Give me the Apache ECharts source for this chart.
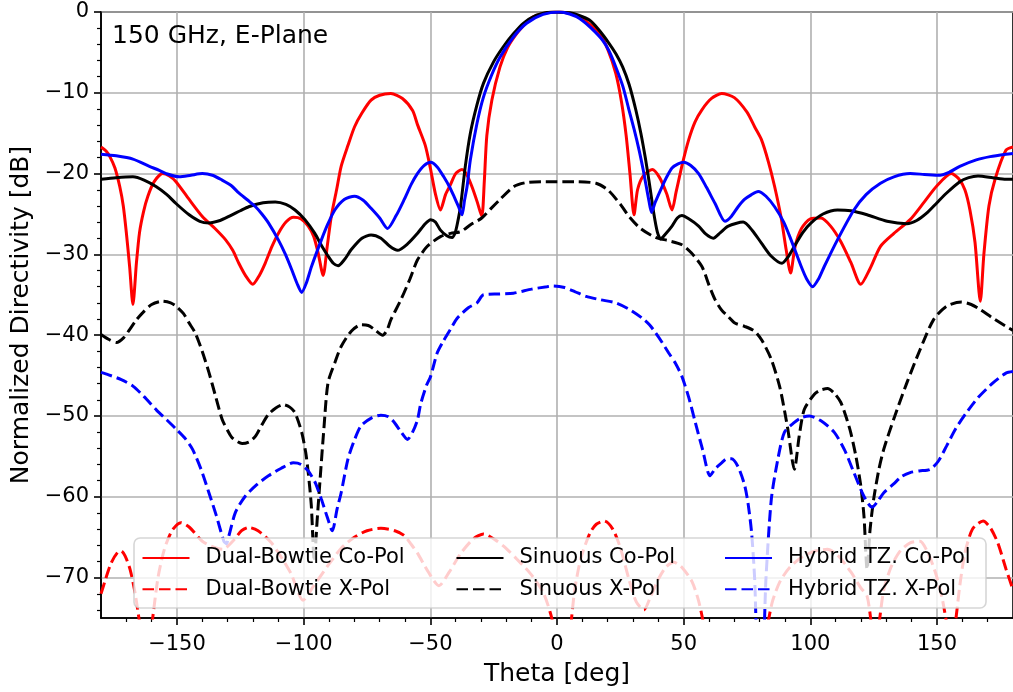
<!DOCTYPE html>
<html>
<head>
<meta charset="utf-8">
<script src="https://cdn.jsdelivr.net/npm/echarts@6/dist/echarts.min.js"></script>
<style>
  html, body { margin: 0; padding: 0; background: #ffffff; }
  #chart { width: 1013px; height: 692px; }
</style>
</head>
<body>
<div id="chart"></div>
<script>
// Normalized directivity cuts at 150 GHz, E-plane: [theta (deg), level (dB)]
const bowtieCo = [[-180,-16.7],[-178,-17.2],[-176.5,-17.9],[-174.5,-19.3],[-172.6,-21.6],[-171.2,-24],[-170,-27.3],[-168.7,-31.5],[-167.4,-36.2],[-166,-31],[-164.8,-27.3],[-163.2,-24.7],[-161.5,-22.8],[-159,-21],[-155.7,-20],[-153,-20.3],[-150.4,-21],[-145.2,-23.2],[-140,-25.3],[-135,-26.8],[-130.8,-28.2],[-128,-29.5],[-125.6,-31.1],[-123,-32.6],[-120.1,-33.7],[-117.5,-32.6],[-115.2,-31.1],[-112.5,-29],[-110,-27.4],[-107,-26],[-104,-25.4],[-101,-25.6],[-98.2,-26.5],[-96,-27.8],[-94.3,-29.8],[-92.3,-32.6],[-90.7,-29],[-89.1,-25.3],[-87,-22],[-85.2,-19.1],[-82.5,-16.5],[-79.9,-14.2],[-77,-12.5],[-73.4,-10.9],[-70,-10.3],[-65.6,-10.1],[-61,-10.7],[-57,-12.2],[-55,-14],[-52,-16.5],[-50,-19.3],[-48,-22.5],[-46,-24.5],[-44,-22.6],[-42.1,-21.4],[-40,-20],[-37.5,-19.5],[-35.5,-20.2],[-33.6,-21.6],[-31.5,-23.5],[-29.7,-25.3],[-28.7,-21],[-27.7,-15.3],[-25.7,-10.9],[-22.5,-6.8],[-19.5,-4.4],[-15.9,-2.67],[-12,-1.3],[-9.4,-0.6],[-5,-0.15],[0,0],[5,-0.15],[9.4,-0.6],[12.5,-1.4],[16.7,-2.6],[20,-4.6],[23.2,-7.6],[25.5,-11.2],[27.3,-15.3],[28.8,-20],[30.4,-25.1],[31.8,-22],[34,-20.3],[37.6,-19.5],[40.5,-20.5],[43.3,-22.5],[45.4,-24.5],[47,-22.3],[49.5,-18.8],[52,-15.8],[54.5,-13.6],[57.2,-12.1],[61,-10.7],[65,-10.1],[70,-10.6],[75,-12.4],[78,-14.2],[80.7,-15.8],[83.5,-18.6],[85.9,-21.6],[88.5,-25.5],[90.5,-29.5],[92.2,-32.3],[94,-29],[96.5,-26.8],[100,-25.6],[104.2,-25.5],[108,-26.5],[112,-28.4],[116,-31],[119.9,-33.7],[123.5,-31.8],[127.7,-29],[133,-27.4],[139.4,-25.7],[145,-23.5],[150,-21.5],[155.7,-20],[158.5,-20.6],[161,-22],[163,-24.5],[165,-28.5],[167.1,-35.8],[168.5,-30],[170.5,-24],[173,-20.6],[177.2,-17.1],[180,-16.7]];

const bowtieX = [[-180,-72],[-178.5,-70.5],[-176,-68.2],[-173.5,-66.9],[-172,-66.7],[-170.5,-67.3],[-168.5,-69],[-166.5,-72],[-164.8,-75.5],[-163,-79],[-161.3,-79],[-159.6,-75],[-157.5,-70],[-155,-66.5],[-152,-64.2],[-148.5,-63.2],[-145,-63.8],[-140,-65.5],[-135,-66.3],[-132,-66.5],[-128,-65.5],[-124.5,-64.2],[-121.7,-63.8],[-118,-64.2],[-113,-65.6],[-110,-66.9],[-105,-69.5],[-100.2,-72.8],[-96,-71],[-90.4,-68.5],[-85,-66.3],[-80,-65],[-75,-64.2],[-69.5,-63.9],[-64,-64.2],[-60.3,-64.8],[-57.5,-65.9],[-55,-67],[-51,-69.2],[-46.6,-71],[-42.5,-69.3],[-38,-67],[-33,-65.2],[-29,-64.6],[-24.5,-65.3],[-20,-66.4],[-15.9,-67.7],[-10.5,-69.5],[-5.5,-71.8],[-2.5,-74.5],[0,-78],[2.5,-81],[5,-77],[7,-71.5],[9.5,-67.5],[13,-64.5],[15.5,-63.4],[18.7,-63],[22,-64],[25,-66.3],[28.4,-70.2],[31.3,-73],[34.3,-74],[37,-72.3],[40,-70.2],[43,-68.7],[46.1,-68.1],[49.5,-68.8],[53.3,-70.5],[56,-73],[58,-76],[60,-80],[70,-85],[80,-80],[83,-76],[85,-73],[88,-70.5],[92,-68.7],[97,-67.4],[102,-66.7],[106.8,-66.5],[111,-67.3],[116,-69.3],[120,-71.3],[122.4,-72.3],[124,-75.5],[125.5,-79],[127,-76],[129,-71.5],[132,-68.6],[135.5,-66.7],[139.4,-65.7],[143.3,-65.5],[146.5,-67],[149.5,-69.5],[152,-72.5],[154,-76],[155.5,-79],[157.3,-75.5],[159,-71],[161,-67],[164,-64],[168.2,-63],[171,-63.8],[174,-65.7],[177.2,-68.9],[180,-71.5]];

const sinuousCo = [[-180,-20.7],[-174,-20.5],[-167.4,-20.4],[-163,-20.8],[-158.3,-21.6],[-154,-22.6],[-150.4,-23.7],[-145.2,-25.1],[-141,-25.9],[-137.4,-26.1],[-133,-25.8],[-129.5,-25.3],[-125,-24.6],[-121.7,-24.1],[-116,-23.6],[-111.2,-23.5],[-107,-23.8],[-103.4,-24.5],[-99.5,-25.7],[-95.6,-27.4],[-92.8,-29],[-90.4,-30.2],[-88.3,-31.1],[-86.4,-31.4],[-83.8,-30.6],[-81.2,-29.4],[-77,-28],[-73.4,-27.6],[-69.5,-28],[-66,-29],[-62.9,-29.5],[-59,-28.7],[-55.1,-27.4],[-52,-26.2],[-49.9,-25.7],[-48,-26],[-46,-27],[-43.5,-27.7],[-41.4,-27.9],[-40.2,-27.3],[-39.4,-26.3],[-38.1,-24.1],[-36.2,-19.1],[-34.2,-15],[-31.6,-11.5],[-29,-8.8],[-25.1,-6.2],[-21.2,-4.3],[-17.2,-2.7],[-13.3,-1.4],[-8.1,-0.4],[-4,-0.05],[-1.3,0],[2,-0.02],[5,-0.1],[8.5,-0.4],[12.8,-1],[16.5,-2.2],[20.6,-3.9],[23.3,-5.2],[25.9,-6.8],[28.5,-9],[31.1,-12.1],[33.1,-15],[35,-18.3],[36.6,-21.5],[38.2,-24.9],[39.6,-27.2],[40.9,-28.1],[42.5,-27.6],[45.4,-26.5],[47.5,-25.5],[49.3,-25.2],[52,-25.6],[55.9,-26.5],[58.8,-27.5],[61.7,-28],[64.5,-27.3],[67.6,-26.5],[73.5,-26],[77,-27],[80.7,-28.6],[84.5,-30.2],[88.8,-31.1],[91,-30.4],[93.7,-29],[97,-27.3],[100.3,-26.1],[105,-25],[110.7,-24.5],[116,-24.6],[122.4,-25.1],[130.3,-25.9],[138.1,-26.2],[142,-25.8],[145.9,-24.9],[150,-23.6],[153.8,-22.4],[159,-21],[162.5,-20.5],[166.2,-20.3],[172,-20.5],[177.2,-20.7],[180,-20.7]];

const sinuousX = [[-180,-39.9],[-177,-40.5],[-173.9,-40.9],[-171,-40.3],[-168.7,-39.3],[-166,-38.1],[-163.5,-37.2],[-160,-36.2],[-155.7,-35.8],[-152.5,-36],[-150.4,-36.4],[-147.5,-37.3],[-145.2,-38.5],[-143,-39.6],[-141.3,-40.9],[-139.4,-42.6],[-137.4,-44.6],[-135,-47.3],[-132.2,-50.4],[-130,-51.8],[-128.2,-52.7],[-124.3,-53.4],[-121.5,-53.2],[-119,-52.5],[-116.5,-51.1],[-113.9,-49.8],[-111,-49],[-108,-48.6],[-105.5,-48.9],[-103.4,-49.6],[-100.8,-52],[-99.2,-54.5],[-98.2,-57],[-97,-61],[-95.8,-68],[-94.7,-63],[-93.6,-58.2],[-92,-51.5],[-90.4,-45.9],[-87.7,-43.4],[-85.2,-41.4],[-81.2,-39.5],[-77.3,-38.7],[-74.5,-38.8],[-72,-39.3],[-68.8,-40],[-67,-39.3],[-65.6,-38.1],[-61.6,-35.6],[-58,-33],[-55.1,-30.7],[-51.2,-29],[-46,-27.8],[-42,-27.4],[-38.1,-27.2],[-34,-26.3],[-29.7,-25.5],[-26,-24.3],[-22.5,-23.2],[-17,-21.6],[-12,-21.1],[-5,-21],[0,-21],[8,-21],[15.4,-21.2],[20,-22],[25,-23.8],[28.4,-25.3],[33,-26.8],[38.9,-27.9],[44,-28.3],[49.3,-28.8],[53,-29.8],[57.2,-31.5],[60,-33.8],[62.4,-35.6],[65,-36.9],[67.6,-37.7],[70.2,-38.5],[74,-38.9],[78,-39.5],[81,-40.7],[84.6,-43],[88,-46.5],[91.1,-51.6],[93.7,-56.6],[95.6,-52.5],[97.6,-49.2],[101.6,-47.3],[104,-46.8],[106.8,-46.6],[109.5,-47.2],[112,-48.3],[114,-50],[115.9,-52],[118,-55],[119.9,-58.6],[121.2,-62.5],[122.4,-69],[123.6,-64],[125,-60.3],[127,-56.7],[129,-54.1],[132.9,-50.4],[138.1,-45.9],[143.3,-41.8],[148.6,-38.1],[153.8,-36.4],[159.7,-35.9],[163.5,-36.2],[166.9,-36.8],[172.1,-37.9],[177.2,-38.9],[180,-39.4]];

const hybridCo = [[-180,-17.6],[-174,-17.8],[-167.4,-18.2],[-160.9,-19.1],[-157,-19.6],[-154.3,-20],[-149.1,-20.4],[-144.5,-20.2],[-140,-20],[-136,-20.2],[-132.2,-20.8],[-128.5,-21.5],[-125.6,-22.4],[-122,-23.3],[-119,-24.1],[-116.5,-25],[-113.9,-26.1],[-110,-28.2],[-107.2,-30],[-104.7,-31.9],[-102.6,-33.6],[-100.8,-34.7],[-98.9,-33.5],[-96.9,-31.5],[-93,-28.2],[-90.4,-26.2],[-87.7,-24.5],[-84,-23.2],[-79.9,-22.8],[-76.5,-23.3],[-73.4,-24.3],[-70,-25.5],[-66.9,-26.8],[-63.5,-25.2],[-60.3,-23.2],[-57.5,-21.3],[-55.1,-20],[-52.5,-19],[-49.9,-18.6],[-47.2,-19.2],[-44.7,-20.4],[-42.5,-21.6],[-40.7,-22.8],[-39,-24],[-37.5,-25.1],[-36.5,-23.3],[-35.5,-21.6],[-34.2,-18.3],[-31.6,-13.8],[-29,-10.5],[-25.8,-7.8],[-22.5,-5.6],[-17.2,-3.1],[-12,-1.4],[-5.5,-0.3],[1,0],[5,-0.25],[8.9,-0.8],[13.5,-2],[18,-3.5],[20.5,-4.8],[23.2,-6.8],[26,-9.2],[28.4,-12.1],[30.5,-14.6],[32.4,-17.1],[34,-19.5],[35,-21.2],[36.3,-23.4],[37.3,-24.8],[38.7,-23.6],[41.5,-21.6],[43.5,-20.3],[45.4,-19.3],[47.8,-18.8],[50,-18.6],[52.8,-19],[55.9,-20],[59,-21.7],[62.4,-23.7],[66.3,-25.9],[68.8,-25.3],[71.5,-24.1],[74,-23.2],[76.8,-22.6],[79.4,-22.2],[82.5,-22.8],[85.9,-24.1],[89.5,-26],[92.4,-28.2],[96.4,-31.5],[98.5,-33],[100.9,-34],[103.3,-33],[105.5,-31.5],[110.7,-28.2],[117.2,-24.5],[122,-22.6],[127.7,-21.2],[133,-20.4],[139.4,-20],[145,-20.1],[151.2,-20.2],[155,-19.8],[159,-19.1],[165.5,-18.3],[171,-17.9],[177.2,-17.6],[180,-17.5]];

const hybridX = [[-180,-44.6],[-177,-44.9],[-172,-45.5],[-167.4,-46.3],[-163,-47.6],[-158,-49.3],[-154,-50.5],[-150.4,-51.6],[-147,-52.7],[-143.9,-54.1],[-140.5,-56.6],[-137.4,-59.5],[-134.5,-62.3],[-131.5,-65.5],[-130.5,-65.8],[-129.5,-64.8],[-126.9,-61.9],[-123,-59.9],[-118.5,-58.5],[-113.9,-57.4],[-109,-56.5],[-104.1,-55.8],[-101,-56],[-98.2,-56.8],[-95.5,-58.2],[-93,-60.3],[-90.7,-62.5],[-88.7,-64.2],[-86.8,-61.5],[-85.2,-59.5],[-82.5,-55.3],[-80,-53],[-77.3,-51.2],[-73,-50.2],[-69.5,-49.9],[-66.5,-50.1],[-64.2,-50.8],[-61.5,-52],[-59,-52.9],[-57,-52],[-55.1,-50.5],[-53.8,-48.5],[-51.5,-46.2],[-49.9,-45.1],[-47.3,-42.2],[-45,-40.8],[-42.1,-39.3],[-39.4,-37.9],[-35,-36.6],[-31.6,-36],[-29,-35],[-23,-34.9],[-17.2,-34.8],[-10,-34.3],[-4,-34],[-1.6,-33.9],[3,-34.1],[7,-34.6],[11.5,-35.2],[17,-35.6],[23.2,-36],[28.5,-36.8],[33.7,-37.9],[36.5,-38.7],[38.9,-39.7],[41.5,-40.9],[44.1,-42.2],[46.8,-43.5],[49.3,-45.1],[52,-47.7],[54.6,-50.8],[57.5,-54.2],[60.4,-57.4],[62.5,-56.5],[65,-55.8],[67,-55.3],[68.9,-55.3],[71.5,-56.3],[74.1,-58.6],[75.5,-61],[76.8,-64.4],[78,-70],[79.4,-80],[81,-80],[82.5,-70],[84.6,-60.3],[87.2,-55.3],[89.8,-52],[93.7,-50.8],[96.5,-50.2],[99.6,-50],[104.2,-50.6],[109.4,-52],[113.5,-54.2],[117.2,-57],[121.1,-59.9],[124.4,-61.3],[126.5,-60.6],[129,-59.5],[132.9,-58.4],[136,-57.5],[139.4,-57],[143,-56.8],[147.3,-56.6],[150.5,-55.6],[153.8,-53.7],[157.5,-51.5],[161.6,-49.6],[166,-47.8],[172.1,-45.9],[177.2,-44.7],[180,-44.5]];

// Tick positions
const xMajorTicks = [-150, -100, -50, 0, 50, 100, 150];
const xMinorTicks = [-170, -160, -140, -130, -120, -110, -90, -80, -70, -60, -40, -30, -20, -10, 10, 20, 30, 40, 60, 70, 80, 90, 110, 120, 130, 140, 160, 170];
const yMajorTicks = [-70, -60, -50, -40, -30, -20, -10, 0];
const yMinorTicks = [-74, -72, -68, -66, -64, -62, -58, -56, -54, -52, -48, -46, -44, -42, -38, -36, -34, -32, -28, -26, -24, -22, -18, -16, -14, -12, -8, -6, -4, -2];

const FONT = 'DejaVu Sans';
const DASH = [11.5, 5];
const minusFmt = v => (v < 0 ? '\u2212' + Math.abs(v) : String(v));

const curves = [
  { name: 'Dual-Bowtie Co-Pol', data: bowtieCo, color: '#ff0000', dashed: false },
  { name: 'Dual-Bowtie X-Pol', data: bowtieX, color: '#ff0000', dashed: true },
  { name: 'Sinuous Co-Pol', data: sinuousCo, color: '#000000', dashed: false },
  { name: 'Sinuous X-Pol', data: sinuousX, color: '#000000', dashed: true },
  { name: 'Hybrid TZ. Co-Pol', data: hybridCo, color: '#0000ff', dashed: false },
  { name: 'Hybrid TZ. X-Pol', data: hybridX, color: '#0000ff', dashed: true }
];

const chart = echarts.init(document.getElementById('chart'), null, { renderer: 'canvas' });

const legendCommon = {
  orient: 'vertical',
  top: 546,
  padding: 0,
  itemWidth: 47,
  itemHeight: 14,
  itemGap: 7.3,
  z: 20,
  itemStyle: { opacity: 0 },
  textStyle: { fontFamily: FONT, fontSize: 21, color: '#000', lineHeight: 24, padding: [0, 0, 0, 11] }
};

const option = {
  animation: false,
  backgroundColor: '#ffffff',
  textStyle: { fontFamily: FONT },
  title: {
    text: '150 GHz, E-Plane',
    left: 112,
    top: 24,
    padding: 0,
    textStyle: { fontFamily: FONT, fontSize: 25, fontWeight: 'normal', color: '#000' }
  },
  grid: {
    left: 101, top: 12, width: 919, height: 607,
    show: true, borderColor: '#000', borderWidth: 1.6, backgroundColor: 'transparent'
  },
  legend: [
    Object.assign({}, legendCommon, { left: 141.5, data: ['Dual-Bowtie Co-Pol', 'Dual-Bowtie X-Pol'] }),
    Object.assign({}, legendCommon, { left: 455.5, data: ['Sinuous Co-Pol', 'Sinuous X-Pol'] }),
    Object.assign({}, legendCommon, { left: 724, data: ['Hybrid TZ. Co-Pol', 'Hybrid TZ. X-Pol'] })
  ],
  graphic: [{
    type: 'rect',
    z: 10,
    shape: { x: 134, y: 538, width: 852, height: 70, r: 6 },
    style: { fill: 'rgba(255,255,255,0.8)', stroke: 'rgba(204,204,204,0.8)', lineWidth: 1.6 }
  }],
  xAxis: [{
    type: 'value', min: -180, max: 180, position: 'bottom',
    name: 'Theta [deg]', nameLocation: 'middle', nameGap: 44,
    nameTextStyle: { fontFamily: FONT, fontSize: 25, color: '#000' },
    axisLine: { show: true, onZero: false, lineStyle: { color: '#000', width: 1.6 } },
    axisTick: { show: true, customValues: xMajorTicks, length: 7, lineStyle: { color: '#000', width: 1.6 } },
    axisLabel: { customValues: xMajorTicks, margin: 16, fontFamily: FONT, fontSize: 21, color: '#000', formatter: minusFmt },
    splitLine: { show: true, lineStyle: { color: '#b0b0b0', width: 1.6 } }
  }, {
    type: 'value', min: -180, max: 180, position: 'bottom', gridIndex: 0,
    axisLine: { show: false, onZero: false },
    axisTick: { show: true, customValues: xMinorTicks, length: 4, lineStyle: { color: '#000', width: 1.2 } },
    axisLabel: { show: false },
    splitLine: { show: false }
  }],
  yAxis: [{
    type: 'value', min: -75, max: 0, position: 'left',
    name: 'Normalized Directivity [dB]', nameLocation: 'middle', nameGap: 62,
    nameTextStyle: { fontFamily: FONT, fontSize: 25, color: '#000' },
    axisLine: { show: true, onZero: false, lineStyle: { color: '#000', width: 1.6 } },
    axisTick: { show: true, customValues: yMajorTicks, length: 7, lineStyle: { color: '#000', width: 1.6 } },
    axisLabel: { customValues: yMajorTicks, margin: 12, fontFamily: FONT, fontSize: 21, color: '#000', formatter: minusFmt },
    splitLine: { show: true, lineStyle: { color: '#b0b0b0', width: 1.6 } }
  }, {
    type: 'value', min: -75, max: 0, position: 'left', gridIndex: 0,
    axisLine: { show: false, onZero: false },
    axisTick: { show: true, customValues: yMinorTicks, length: 4, lineStyle: { color: '#000', width: 1.2 } },
    axisLabel: { show: false },
    splitLine: { show: false }
  }],
  series: curves.map((c, i) => ({
    name: c.name,
    type: 'line',
    xAxisIndex: 0,
    yAxisIndex: 0,
    data: c.data,
    symbol: 'none',
    showSymbol: false,
    smooth: 0.25,
    clip: true,
    z: 2 + i * 0.01,
    color: c.color,
    lineStyle: { color: c.color, width: 3, type: c.dashed ? DASH : 'solid', cap: 'butt' },
    emphasis: { disabled: true }
  }))
};

chart.setOption(option);
</script>
</body>
</html>
